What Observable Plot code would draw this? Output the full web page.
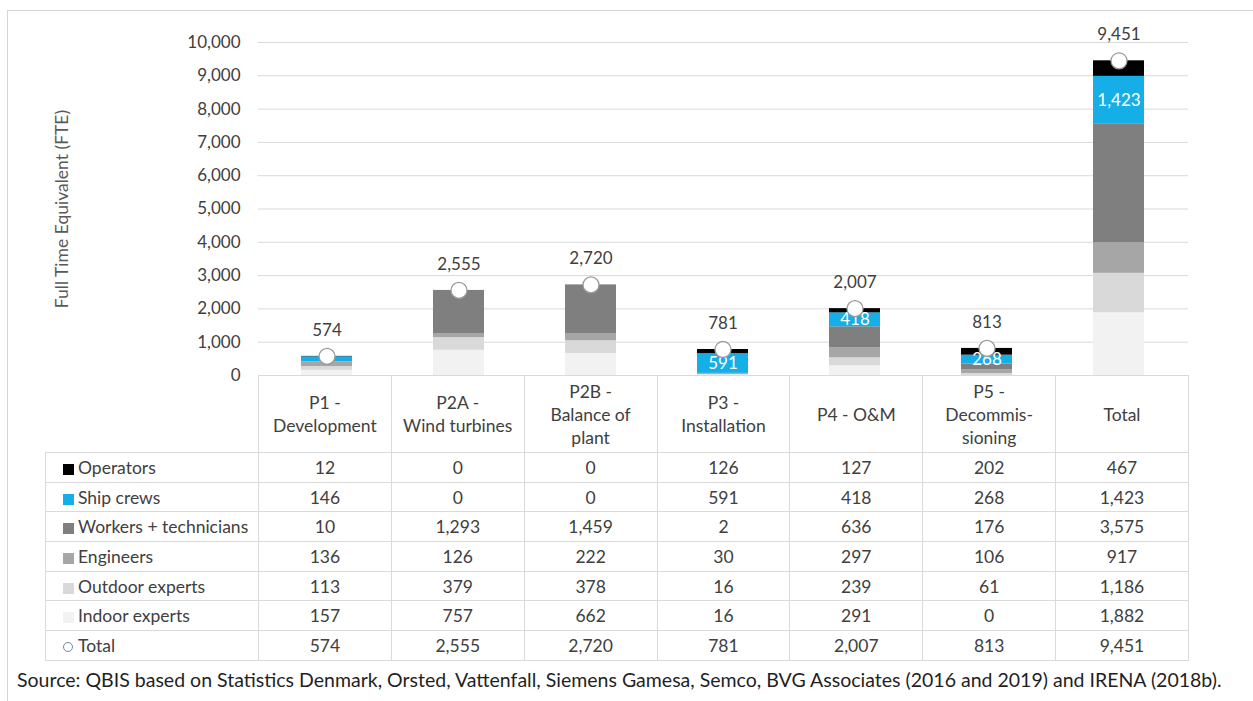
<!DOCTYPE html>
<html><head><meta charset="utf-8">
<script src="https://cdn.jsdelivr.net/npm/d3@7"></script>
<script src="https://cdn.jsdelivr.net/npm/@observablehq/plot@0.6"></script>
<style>
body{margin:0;background:#fff;font-family:Lato,"Open Sans",sans-serif;}
#wrap{position:relative;width:1253px;height:701px;overflow:hidden;background:#fff;}
#frame{position:absolute;left:7px;top:10px;width:1400px;height:800px;border:1px solid #d4d4d4;box-sizing:border-box;}
#chart{position:absolute;left:0;top:0;}
#tbl{position:absolute;left:45px;top:375px;border-collapse:collapse;table-layout:fixed;font-size:17.5px;color:#404040;}
#tbl td{border:1px solid #dadada;text-align:center;padding:0;line-height:23px;}
#tbl tr.hdr td{height:76px;}
#tbl tr.row td{height:28.7px;}
#tbl td.lab{text-align:left;padding-left:17px;white-space:nowrap;}
#tbl td.blank{border:none;}
.sw{display:inline-block;width:11px;height:11px;margin-right:4px;vertical-align:-1px;}
.ring{display:inline-block;width:8px;height:8px;border:1px solid #6f8aa6;border-radius:50%;margin-right:5px;vertical-align:0px;box-sizing:content-box;}
#source{position:absolute;left:17px;top:667px;font-size:18px;line-height:26px;color:#1f1f1f;white-space:nowrap;}
</style>
</head><body>
<div id="wrap"><div id="frame"></div><div id="chart"></div><table id="tbl"></table><div id="source"></div></div>
<script>
// ---- data ----
const categories = ["P1","P2A","P2B","P3","P4","P5","Total"];
const headerLines = [["P1 -","Development"],["P2A -","Wind turbines"],["P2B -","Balance of","plant"],["P3 -","Installation"],["P4 - O&M"],["P5 -","Decommis-","sioning"],["Total"]];
const series = ["Operators","Ship crews","Workers + technicians","Engineers","Outdoor experts","Indoor experts"];
const seriesColors = ["#000000","#16aee6","#7f7f7f","#a6a6a6","#d9d9d9","#f2f2f2"];
const operators = [12,0,0,126,127,202,467];
const shipCrews = [146,0,0,591,418,268,1423];
const workers = [10,1293,1459,2,636,176,3575];
const engineers = [136,126,222,30,297,106,917];
const outdoorExperts = [113,379,378,16,239,61,1186];
const indoorExperts = [157,757,662,16,291,0,1882];
const totals = [574,2555,2720,781,2007,813,9451];
const shipLabelShown = [false,false,false,true,true,true,true];
const yTicks = [0,1000,2000,3000,4000,5000,6000,7000,8000,9000,10000];
const sourceText = "Source: QBIS based on Statistics Denmark, Orsted, Vattenfall, Siemens Gamesa, Semco, BVG Associates (2016 and 2019) and IRENA (2018b).";

const valuesBySeries = [operators, shipCrews, workers, engineers, outdoorExperts, indoorExperts];
const fmt = d3.format(",");

// stacked rows, bottom-up order (Indoor first)
const rows = [];
for (let s = series.length - 1; s >= 0; s--) {
  categories.forEach((c, i) => rows.push({cat: c, series: series[s], value: valuesBySeries[s][i]}));
}
// ship crew label midpoints
const shipLabels = categories.map((c, i) => {
  const below = indoorExperts[i] + outdoorExperts[i] + engineers[i] + workers[i];
  return {cat: c, mid: below + shipCrews[i] / 2, text: fmt(shipCrews[i]), show: shipLabelShown[i]};
}).filter(d => d.show);
const totalRows = categories.map((c, i) => ({cat: c, total: totals[i]}));

const chart = Plot.plot({
  width: 1253, height: 395,
  marginLeft: 258, marginRight: 65, marginTop: 42, marginBottom: 20,
  style: {fontFamily: "Lato, 'Open Sans', sans-serif", background: "transparent", overflow: "visible"},
  x: {domain: categories, type: "band", paddingInner: 0.61, paddingOuter: 0.305, axis: null},
  y: {domain: [0, 10000], axis: null},
  color: {domain: series, range: seriesColors},
  marks: [
    Plot.gridY(yTicks, {stroke: "#d9d9d9", strokeOpacity: 1}),
    Plot.axisY(yTicks, {tickSize: 0, tickPadding: 18, tickFormat: fmt, fontSize: 17, fill: "#404040", label: null}),
    Plot.text(["Full Time Equivalent (FTE)"], {frameAnchor: "left", textAnchor: "middle", dx: -196, rotate: -90, fontSize: 17.5, fill: "#595959"}),
    Plot.barY(rows, {x: "cat", y: "value", fill: "series", order: null}),
    Plot.text(shipLabels, {x: "cat", y: "mid", text: "text", fill: "white", fontSize: 17}),
    Plot.dot(totalRows, {x: "cat", y: "total", r: 8, fill: "white", stroke: "#9a9a9a", strokeWidth: 1.3}),
    Plot.text(totalRows, {x: "cat", y: "total", text: d => fmt(d.total), dy: -26, fontSize: 17, fill: "#404040"})
  ]
});
document.getElementById("chart").appendChild(chart);

// ---- table aligned to x scale ----
const xs = chart.scale("x");
const colW = (xs.range[1] - xs.range[0]) / categories.length;
const labW = xs.range[0] - 45;
const tbl = document.getElementById("tbl");
let html = `<colgroup><col style="width:${labW}px">` + categories.map(() => `<col style="width:${colW}px">`).join("") + `</colgroup>`;
html += `<tr class="hdr"><td class="blank"></td>` + headerLines.map(l => `<td>${l.join("<br>")}</td>`).join("") + `</tr>`;
series.forEach((s, si) => {
  html += `<tr class="row"><td class="lab"><span class="sw" style="background:${seriesColors[si]}"></span>${s}</td>` +
    valuesBySeries[si].map(v => `<td>${fmt(v)}</td>`).join("") + `</tr>`;
});
html += `<tr class="row"><td class="lab"><span class="ring"></span>Total</td>` + totals.map(v => `<td>${fmt(v)}</td>`).join("") + `</tr>`;
tbl.innerHTML = html;
tbl.style.width = (labW + colW * categories.length) + "px";

// source line, font size fitted to the reference width
const src = document.getElementById("source");
src.textContent = sourceText;
const w = src.getBoundingClientRect().width;
src.style.fontSize = (18 * 1205 / w) + "px";
</script>
</body></html>
